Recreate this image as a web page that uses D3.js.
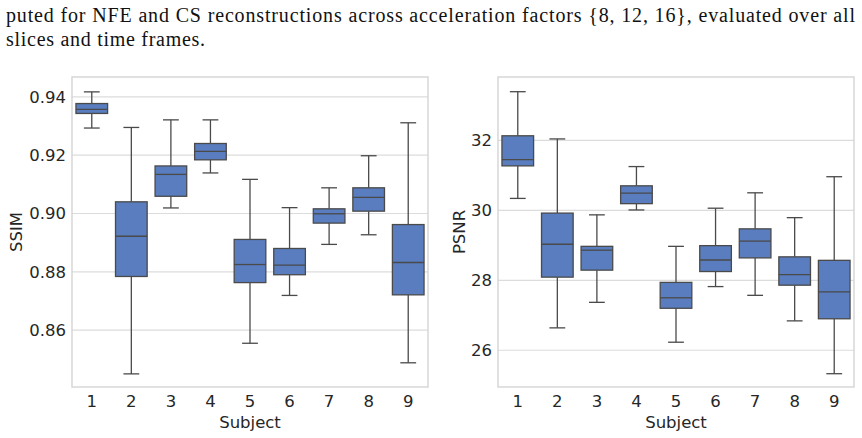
<!DOCTYPE html>
<html>
<head>
<meta charset="utf-8">
<script src="https://cdn.jsdelivr.net/npm/d3@7"></script>
<style>
  body { margin: 0; background: #fff; }
  svg { display: block; }
</style>
</head>
<body>
<svg id="chart" width="862" height="438"></svg>
<script>
const subjects = ['1', '2', '3', '4', '5', '6', '7', '8', '9'];

// SSIM box stats per subject
const ssimLow    = [0.9293, 0.8450, 0.9019, 0.9139, 0.8555, 0.8719, 0.8894, 0.8927, 0.8488];
const ssimQ1     = [0.9343, 0.8784, 0.9059, 0.9184, 0.8763, 0.8790, 0.8967, 0.9008, 0.8721];
const ssimMedian = [0.9357, 0.8922, 0.9134, 0.9213, 0.8825, 0.8823, 0.8999, 0.9055, 0.8832];
const ssimQ3     = [0.9377, 0.9040, 0.9163, 0.9240, 0.8911, 0.8880, 0.9016, 0.9088, 0.8962];
const ssimHigh   = [0.9417, 0.9295, 0.9321, 0.9321, 0.9117, 0.9020, 0.9088, 0.9198, 0.9311];
const ssimTicks  = [0.86, 0.88, 0.90, 0.92, 0.94];

// PSNR box stats per subject
const psnrLow    = [30.34, 26.64, 27.37, 30.01, 26.23, 27.82, 27.57, 26.84, 25.33];
const psnrQ1     = [31.27, 28.09, 28.29, 30.19, 27.20, 28.25, 28.64, 27.86, 26.90];
const psnrMedian = [31.45, 29.03, 28.86, 30.49, 27.50, 28.58, 29.12, 28.16, 27.67];
const psnrQ3     = [32.13, 29.92, 28.97, 30.70, 27.94, 28.99, 29.47, 28.67, 28.57];
const psnrHigh   = [33.39, 32.04, 29.87, 31.25, 28.97, 30.06, 30.50, 29.79, 30.96];
const psnrTicks  = [26, 28, 30, 32];

const captionLines = [
  'puted for NFE and CS reconstructions across acceleration factors {8, 12, 16}, evaluated over all',
  'slices and time frames.'
];

const svg = d3.select('#chart');
const boxFill = '#597dbf';
const lineColor = '#4a4a4a';
const textColor = '#262626';

// caption above the plots (justified like the paper text)
svg.selectAll('text.caption')
  .data(captionLines)
  .enter()
  .append('text')
  .attr('class', 'caption')
  .attr('x', 6)
  .attr('y', (d, i) => 22 + i * 24)
  .attr('textLength', (d, i) => i === 0 ? 849 : 199)
  .attr('lengthAdjust', 'spacing')
  .style('font-family', 'Liberation Serif, DejaVu Serif, serif')
  .style('font-size', '20px')
  .attr('fill', '#111')
  .text(d => d);

function drawPanel(opts) {
  const { left, right, top, bottom, domain, ticks, fmt, label, labelX, stats } = opts;

  const x = d3.scaleBand().domain(subjects).range([left, right]).padding(0);
  const y = d3.scaleLinear().domain(domain).range([bottom, top]);

  const g = svg.append('g');

  // grid
  g.selectAll('line.grid')
    .data(ticks)
    .enter()
    .append('line')
    .attr('class', 'grid')
    .attr('x1', left).attr('x2', right)
    .attr('y1', d => y(d)).attr('y2', d => y(d))
    .attr('stroke', '#dcdcdc')
    .attr('stroke-width', 1.2);

  // frame
  g.append('rect')
    .attr('x', left).attr('y', top)
    .attr('width', right - left).attr('height', bottom - top)
    .attr('fill', 'none')
    .attr('stroke', '#d4d4d4')
    .attr('stroke-width', 1.4);

  // y axis labels
  const yAxis = d3.axisLeft(y).tickValues(ticks).tickFormat(fmt).tickSize(0).tickPadding(6);
  const ya = g.append('g').attr('transform', `translate(${left},0)`).call(yAxis);
  ya.select('.domain').remove();
  ya.selectAll('text')
    .style('font-family', 'DejaVu Sans, sans-serif')
    .style('font-size', '16.5px')
    .attr('fill', textColor);

  // x axis labels
  const xAxis = d3.axisBottom(x).tickSize(0).tickPadding(8);
  const xa = g.append('g').attr('transform', `translate(0,${bottom})`).call(xAxis);
  xa.select('.domain').remove();
  xa.selectAll('text')
    .style('font-family', 'DejaVu Sans, sans-serif')
    .style('font-size', '16.5px')
    .attr('fill', textColor);

  // axis titles
  g.append('text')
    .attr('x', (left + right) / 2).attr('y', 428)
    .attr('text-anchor', 'middle')
    .style('font-family', 'DejaVu Sans, sans-serif')
    .style('font-size', '16.5px')
    .attr('fill', textColor)
    .text('Subject');
  g.append('text')
    .attr('transform', `translate(${labelX},${(top + bottom) / 2}) rotate(-90)`)
    .attr('text-anchor', 'middle')
    .attr('dy', '0.35em')
    .style('font-family', 'DejaVu Sans, sans-serif')
    .style('font-size', '16.5px')
    .attr('fill', textColor)
    .text(label);

  const data = subjects.map((s, i) => ({
    s, lo: stats.lo[i], q1: stats.q1[i], med: stats.med[i], q3: stats.q3[i], hi: stats.hi[i]
  }));
  const bw = x.bandwidth() * 0.8;
  const cx = d => x(d.s) + x.bandwidth() / 2;

  const boxes = g.selectAll('g.box').data(data).enter().append('g').attr('class', 'box');

  // whiskers
  boxes.append('line')
    .attr('x1', cx).attr('x2', cx)
    .attr('y1', d => y(d.hi)).attr('y2', d => y(d.q3))
    .attr('stroke', lineColor).attr('stroke-width', 1.3);
  boxes.append('line')
    .attr('x1', cx).attr('x2', cx)
    .attr('y1', d => y(d.q1)).attr('y2', d => y(d.lo))
    .attr('stroke', lineColor).attr('stroke-width', 1.3);
  // caps
  ['hi', 'lo'].forEach(k => {
    boxes.append('line')
      .attr('x1', d => cx(d) - bw / 4).attr('x2', d => cx(d) + bw / 4)
      .attr('y1', d => y(d[k])).attr('y2', d => y(d[k]))
      .attr('stroke', lineColor).attr('stroke-width', 1.3);
  });
  // box
  boxes.append('rect')
    .attr('x', d => cx(d) - bw / 2)
    .attr('width', bw)
    .attr('y', d => y(d.q3))
    .attr('height', d => y(d.q1) - y(d.q3))
    .attr('fill', boxFill)
    .attr('stroke', lineColor)
    .attr('stroke-width', 1.3);
  // median
  boxes.append('line')
    .attr('x1', d => cx(d) - bw / 2).attr('x2', d => cx(d) + bw / 2)
    .attr('y1', d => y(d.med)).attr('y2', d => y(d.med))
    .attr('stroke', lineColor).attr('stroke-width', 1.3);
}

drawPanel({
  left: 72, right: 428, top: 77, bottom: 387,
  domain: [0.8405, 0.9468],
  ticks: ssimTicks, fmt: d3.format('.2f'),
  label: 'SSIM', labelX: 16,
  stats: { lo: ssimLow, q1: ssimQ1, med: ssimMedian, q3: ssimQ3, hi: ssimHigh }
});

drawPanel({
  left: 498, right: 854, top: 77, bottom: 387,
  domain: [24.95, 33.81],
  ticks: psnrTicks, fmt: d3.format('d'),
  label: 'PSNR', labelX: 459,
  stats: { lo: psnrLow, q1: psnrQ1, med: psnrMedian, q3: psnrQ3, hi: psnrHigh }
});
</script>
</body>
</html>
